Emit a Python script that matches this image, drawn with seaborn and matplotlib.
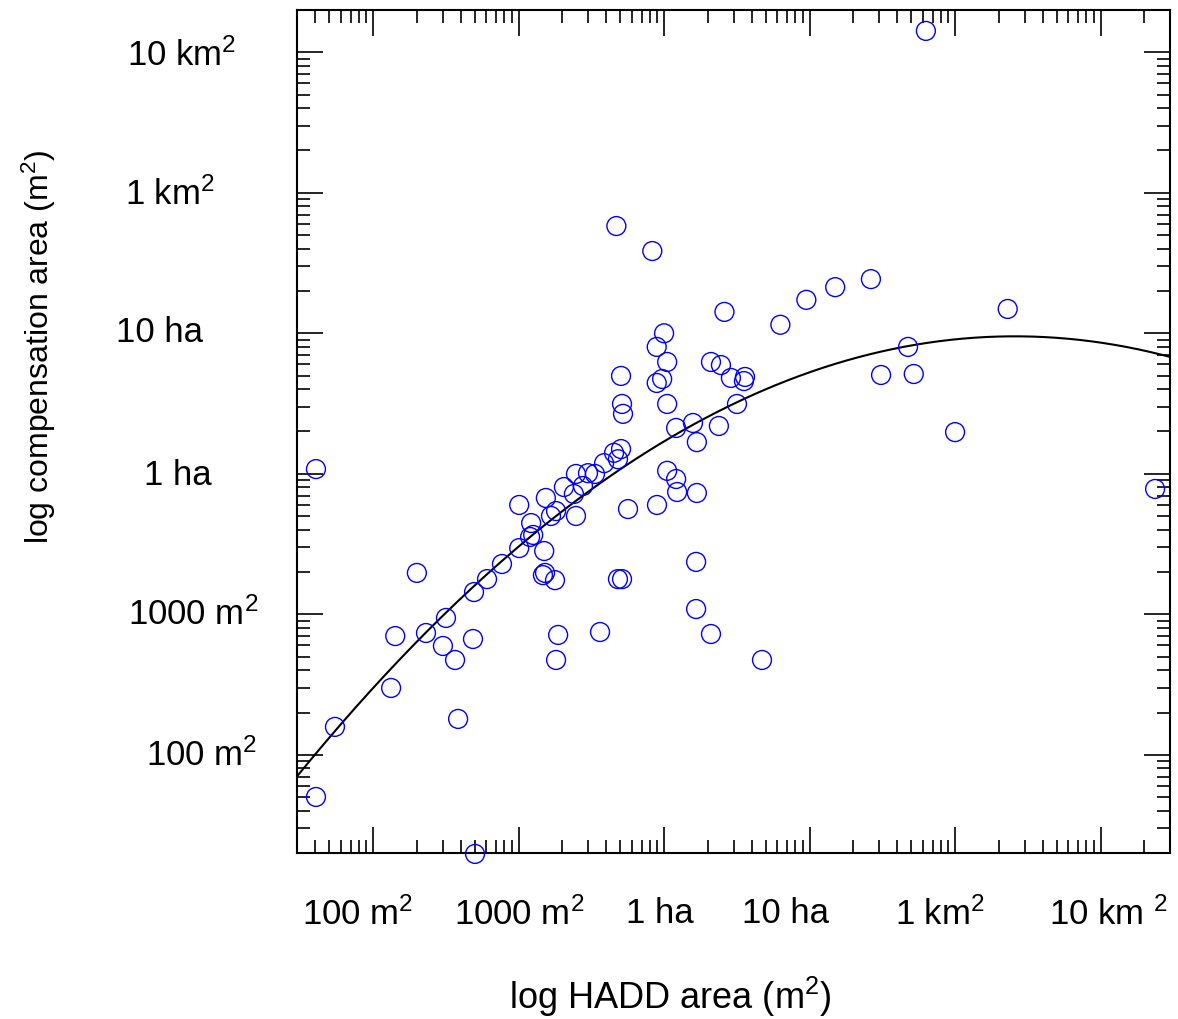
import numpy as np
import pandas as pd
import matplotlib
matplotlib.use('Agg')
import matplotlib.pyplot as plt
import matplotlib.transforms as mtransforms
import seaborn as sns

# HADD area vs compensation area (m2)
hadd_area = [6.3e5, 4700, 8300, 2.64e5, 1.5e5, 9.5e4, 2.6e4, 2.3e6, 6.3e4, 1.0e4,
             8900, 4.75e5, 1.05e4, 2.1e4, 2.46e4, 5060, 3.1e5, 5.2e5, 8900, 9700,
             2.88e4, 3.6e4, 3.54e4, 1.05e4, 5140, 3.17e4, 5220, 1.58e4, 1.21e4, 2.38e4,
             1.0e6, 1.68e4, 5060, 4530, 4820, 3870, 3350, 3000, 2480, 1.05e4,
             1.21e4, 40.5, 2050, 2770, 2400, 1540, 1.23e4, 1.68e4, 2.37e7, 1010,
             8940, 5650, 1810, 1670, 2480, 1220, 1260, 1200, 1010, 1500,
             1.66e4, 769, 200, 1520, 1470, 607, 4820, 5140, 1780, 494,
             1.66e4, 317, 142, 231, 3630, 1870, 2.1e4, 486, 302, 366,
             1810, 4.71e4, 133, 384, 54.7, 40.5, 502]
comp_area = [1.42e7, 5.8e5, 3.85e5, 2.43e5, 2.13e5, 1.73e5, 1.42e5, 1.49e5, 1.15e5, 1.0e5,
             8.0e4, 8.0e4, 6.25e4, 6.25e4, 5.94e4, 4.97e4, 5.05e4, 5.13e4, 4.43e4, 4.73e4,
             4.81e4, 4.89e4, 4.57e4, 3.14e4, 3.14e4, 3.14e4, 2.67e4, 2.3e4, 2.12e4, 2.19e4,
             1.98e4, 1.68e4, 1.5e4, 1.41e4, 1.27e4, 1.19e4, 9970, 1.01e4, 9970, 1.05e4,
             9180, 1.08e4, 8050, 8190, 7180, 6730, 7420, 7300, 7800, 6000,
             6000, 5610, 5430, 5010, 5010, 4460, 3670, 3550, 2960, 2820,
             2360, 2280, 1970, 1970, 1900, 1780, 1780, 1780, 1750, 1440,
             1090, 942, 700, 736, 748, 713, 724, 667, 595, 473,
             473, 473, 299, 180, 158, 50.1, 19.7]

# quadratic fit in log-log space: log y = b0 + b1*log x + b2*(log x)^2
fit_coefs = [-0.310, 1.650, -0.1287]

tick_values = [1e2, 1e3, 1e4, 1e5, 1e6, 1e7]
x_tick_labels = ['100 m$^2$', '1000 m$^2$', '1 ha', '10 ha', '1 km$^2$', '10 km $^2$']
y_tick_labels = ['100 m$^2$', '1000 m$^2$', '1 ha', '10 ha', '1 km$^2$', '10 km$^2$']

sns.set_theme(style='ticks')
plt.rcParams['font.family'] = ['Liberation Sans', 'DejaVu Sans']
plt.rcParams['mathtext.fontset'] = 'custom'
plt.rcParams['mathtext.rm'] = 'Liberation Sans'
plt.rcParams['mathtext.default'] = 'regular'
plt.rcParams['text.color'] = 'black'
plt.rcParams['axes.labelcolor'] = 'black'
plt.rcParams['xtick.color'] = 'black'
plt.rcParams['ytick.color'] = 'black'

df = pd.DataFrame({'hadd': hadd_area, 'comp': comp_area})

lx = np.linspace(np.log10(30), np.log10(3e7), 300)
ly = fit_coefs[0] + fit_coefs[1] * lx + fit_coefs[2] * lx ** 2
curve = pd.DataFrame({'hadd': 10 ** lx, 'comp': 10 ** ly})

fig = plt.figure(figsize=(11.78, 10.19), dpi=100)
ax = fig.add_axes([297 / 1178, 1 - 853 / 1019, 873 / 1178, 843 / 1019])
ax.set_xscale('log')
ax.set_yscale('log')

sns.lineplot(data=curve, x='hadd', y='comp', ax=ax, color='black', lw=1.5,
             sort=False, estimator=None)
sns.scatterplot(data=df, x='hadd', y='comp', ax=ax, s=185, marker='o',
                facecolor='none', edgecolor='blue', linewidth=1.0,
                clip_on=False, zorder=3)

ax.set_xlim(30, 3e7)
ax.set_ylim(20, 2e7)

ax.set_xticks(tick_values)
ax.set_xticklabels(x_tick_labels)
ax.set_yticks(tick_values)
ax.set_yticklabels(y_tick_labels)
ax.xaxis.set_minor_locator(matplotlib.ticker.LogLocator(subs=np.arange(2, 10)))
ax.yaxis.set_minor_locator(matplotlib.ticker.LogLocator(subs=np.arange(2, 10)))
ax.xaxis.set_minor_formatter(matplotlib.ticker.NullFormatter())
ax.yaxis.set_minor_formatter(matplotlib.ticker.NullFormatter())

ax.tick_params(which='both', direction='in', top=True, right=True,
               color='black', width=1.2)
ax.tick_params(which='major', length=19)
ax.tick_params(which='minor', length=9.5)
ax.tick_params(axis='x', which='major', labelsize=25, pad=32, labelcolor='black')
ax.tick_params(axis='y', which='major', labelsize=25, pad=81, labelcolor='black')
for s in ax.spines.values():
    s.set_linewidth(1.5)
    s.set_color('black')

# the original places the tick labels by hand, shift them a bit
x_dx = [-15, 1, -4, -24, -15, 8]
y_dx = [17, 9, -7, -25, -15, -3]
y_dy = [3, 3, 2, 4, 2, 0]
for lab, dx in zip(ax.get_xticklabels(), x_dx):
    lab.set_transform(lab.get_transform() +
                      mtransforms.ScaledTranslation(dx / 100, 0, fig.dpi_scale_trans))
for lab, dx, dy in zip(ax.get_yticklabels(), y_dx, y_dy):
    lab.set_horizontalalignment('center')
    lab.set_transform(lab.get_transform() +
                      mtransforms.ScaledTranslation(dx / 100, dy / 100, fig.dpi_scale_trans))

ax.set_xlabel('log HADD area (m$^2$)', fontsize=26, color='black')
ax.set_ylabel('log compensation area (m$^2$)', fontsize=23, color='black')
ax.xaxis.set_label_coords(0.427, -0.1447)
ax.yaxis.set_label_coords(-0.274, 0.600)

fig.savefig('out.png', dpi=100, facecolor='white')
